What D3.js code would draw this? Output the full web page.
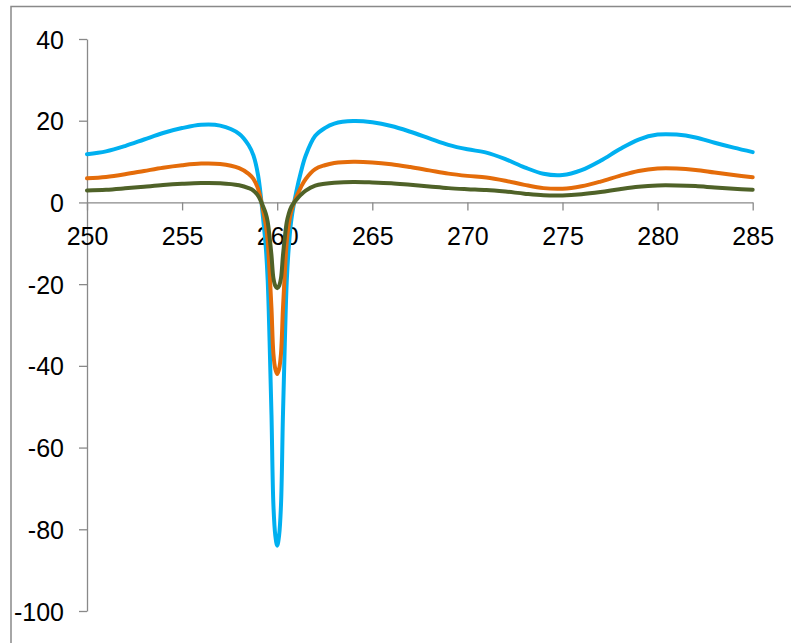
<!DOCTYPE html>
<html>
<head>
<meta charset="utf-8">
<script src="https://cdn.jsdelivr.net/npm/d3@7"></script>
<style>
  html, body { margin: 0; padding: 0; background: #fff; }
  svg { display: block; }
  text { font-family: "Liberation Sans", Arial, sans-serif; font-size: 25px; fill: #000; }
</style>
</head>
<body>
<svg id="chart" width="791" height="643"></svg>
<script>
// Wavelength samples (denser around the narrow dip at 260)
const wavelengths = [250, 251, 252, 253, 254, 255, 256, 257, 258,
  258.5, 258.75, 259, 259.25, 259.4, 259.5, 259.6, 259.7, 259.8, 259.9,
  260, 260.1, 260.2, 260.3, 260.4, 260.5, 260.6, 260.75,
  261, 261.25, 261.5, 262, 262.5, 263,
  264, 265, 266, 267, 268, 269, 270, 271, 272, 273, 274, 275, 276, 277, 278, 279, 280, 281, 282, 283, 284, 285];

const seriesBlue = [11.8, 12.5, 13.8, 15.4, 17.0, 18.2, 19.0, 18.8, 16.8,
  14.0, 11.5, 6.5, -3.5, -11, -19, -34, -52, -74, -81.5,
  -84, -81.5, -74, -52.5, -34.5, -19.5, -11.5, -4,
  2.5, 7.5, 11.5, 16.3, 18.2, 19.3,
  19.9, 19.6, 18.7, 17.3, 15.7, 14.1, 13.0, 12.2, 10.6, 8.6, 7.0, 6.7, 7.9, 10.2, 13.0, 15.4, 16.6, 16.6, 15.9, 14.6, 13.4, 12.3];

const seriesOrange = [5.9, 6.25, 6.9, 7.7, 8.5, 9.1, 9.5, 9.4, 8.4,
  7.0, 5.75, 3.25, -1.75, -5.5, -9.5, -17, -26, -37, -40.75,
  -42, -40.75, -37, -26.25, -17.25, -9.75, -5.75, -2,
  1.25, 3.75, 5.75, 8.15, 9.1, 9.65,
  9.95, 9.8, 9.35, 8.65, 7.85, 7.05, 6.5, 6.1, 5.3, 4.3, 3.5, 3.35, 3.95, 5.1, 6.5, 7.7, 8.3, 8.3, 7.95, 7.3, 6.7, 6.15];

const seriesGreen = [2.95, 3.1, 3.45, 3.85, 4.25, 4.55, 4.75, 4.7, 4.2,
  3.5, 2.9, 1.6, -0.9, -2.75, -4.75, -8.5, -13, -18.5, -20.4,
  -21, -20.4, -18.5, -13.1, -8.6, -4.9, -2.9, -1,
  0.6, 1.9, 2.9, 4.1, 4.55, 4.8,
  5.0, 4.9, 4.7, 4.3, 3.9, 3.5, 3.25, 3.05, 2.65, 2.15, 1.75, 1.7, 2.0, 2.55, 3.25, 3.85, 4.15, 4.15, 4.0, 3.65, 3.35, 3.1];

const xTicks = [250, 255, 260, 265, 270, 275, 280, 285];
const yTicks = [40, 20, 0, -20, -40, -60, -80, -100];

const series = [
  { values: seriesBlue,   color: "#00B0F0" },
  { values: seriesOrange, color: "#E46C0A" },
  { values: seriesGreen,  color: "#4F6228" }
];

const svg = d3.select("#chart");

// outer chart frame
svg.append("rect")
  .attr("x", 11).attr("y", 6.5)
  .attr("width", 800).attr("height", 700)
  .attr("fill", "none").attr("stroke", "#898989").attr("stroke-width", 1.5);

const x = d3.scaleLinear().domain([250, 285]).range([87, 752.7]);
const y = d3.scaleLinear().domain([-100, 40]).range([611, 39]);

const axisColor = "#898989";
const plainNumber = d => String(d);

// vertical axis
const yAxis = svg.append("g")
  .attr("transform", `translate(${x(250)},0)`)
  .call(d3.axisLeft(y).tickValues(yTicks).tickSize(8).tickSizeOuter(0).tickFormat(plainNumber));
yAxis.select(".domain").attr("stroke", axisColor).attr("stroke-width", 1.3);
yAxis.selectAll(".tick line").attr("stroke", axisColor).attr("stroke-width", 1.3);
yAxis.selectAll(".tick text")
  .attr("x", -23).attr("dy", "0.36em")
  .attr("fill", "#000");

// horizontal axis crossing at zero
const xAxis = svg.append("g")
  .attr("transform", `translate(0,${y(0)})`)
  .call(d3.axisBottom(x).tickValues(xTicks).tickSize(8).tickSizeOuter(0).tickFormat(plainNumber));
xAxis.select(".domain").attr("stroke", axisColor).attr("stroke-width", 1.3);
xAxis.selectAll(".tick line").attr("stroke", axisColor).attr("stroke-width", 1.3);
xAxis.selectAll(".tick text")
  .attr("y", 42.6).attr("dy", null)
  .attr("fill", "#000");
svg.selectAll("g").attr("font-family", null).attr("font-size", null);

// smoothed series lines
const line = d3.line()
  .x((d, i) => x(wavelengths[i]))
  .y(d => y(d))
  .curve(d3.curveCatmullRom.alpha(0.5));

svg.append("g").selectAll("path")
  .data(series)
  .join("path")
  .attr("d", s => line(s.values))
  .attr("fill", "none")
  .attr("stroke", s => s.color)
  .attr("stroke-width", 4)
  .attr("stroke-linejoin", "round")
  .attr("stroke-linecap", "round");
</script>
</body>
</html>
